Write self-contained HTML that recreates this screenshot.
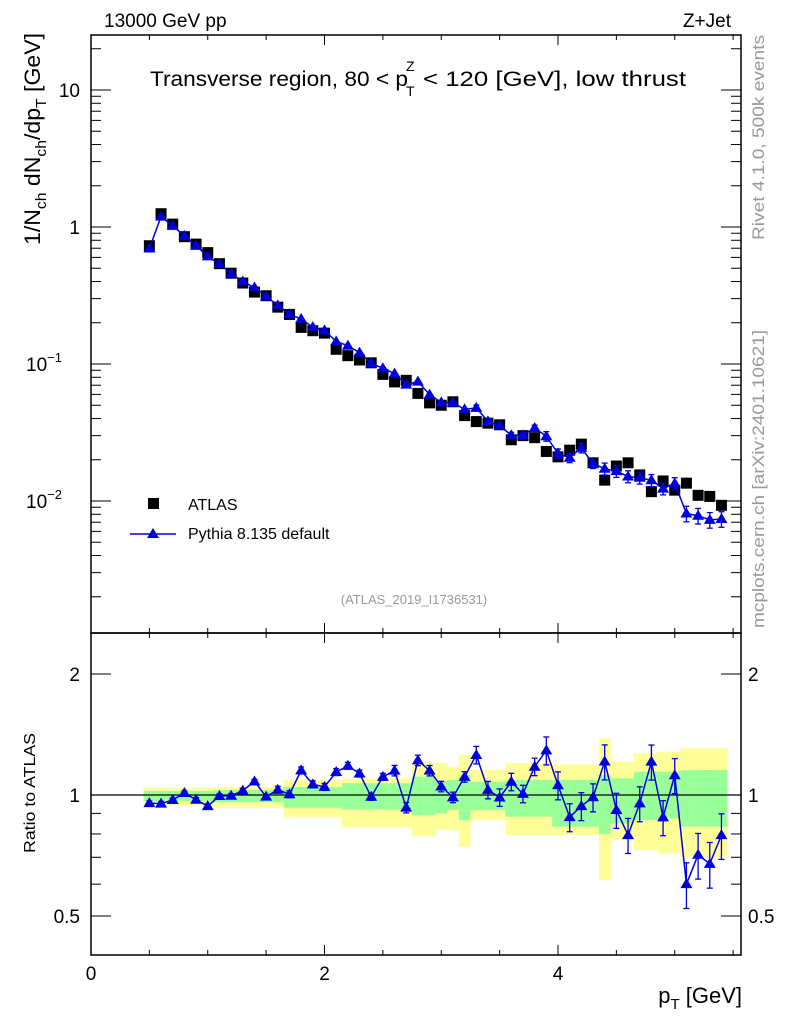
<!DOCTYPE html>
<html><head><meta charset="utf-8"><style>
body{margin:0;background:#fff;}
svg{display:block;font-family:"Liberation Sans",Arial,sans-serif;}
</style></head><body>
<svg id="chart" width="786" height="1024" viewBox="0 0 786 1024" xmlns="http://www.w3.org/2000/svg">
<rect x="0" y="0" width="786" height="1024" fill="#fff"/>
<g id="bands"></g>
<g id="marks"></g>
<g id="axes"></g>
<text x="104" y="27" font-size="19">13000 GeV pp</text>
<text x="731" y="27" font-size="19" text-anchor="end">Z+Jet</text>
<g>
<text x="150" y="86" font-size="21" textLength="258" lengthAdjust="spacingAndGlyphs">Transverse region, 80 &lt; p</text>
<text x="406" y="71" font-size="14">Z</text>
<text x="406" y="96" font-size="14">T</text>
<text x="423" y="86" font-size="21" textLength="263" lengthAdjust="spacingAndGlyphs">&lt; 120 [GeV], low thrust</text>
</g>
<text x="414" y="604" font-size="13" fill="#999" text-anchor="middle">(ATLAS_2019_I1736531)</text>
<text transform="translate(764,240) rotate(-90)" font-size="17" fill="#999" textLength="205" lengthAdjust="spacingAndGlyphs">Rivet 4.1.0,  500k events</text>
<text transform="translate(764,628) rotate(-90)" font-size="17" fill="#999" textLength="298" lengthAdjust="spacingAndGlyphs">mcplots.cern.ch [arXiv:2401.10621]</text>
<text transform="translate(40,245) rotate(-90)" font-size="22" textLength="212" lengthAdjust="spacingAndGlyphs">1/N<tspan font-size="15" dy="6">ch</tspan><tspan dy="-6"> dN</tspan><tspan font-size="15" dy="6">ch</tspan><tspan dy="-6">/dp</tspan><tspan font-size="15" dy="6">T</tspan><tspan dy="-6"> [GeV]</tspan></text>
<text transform="translate(35,853) rotate(-90)" font-size="16" textLength="120" lengthAdjust="spacingAndGlyphs">Ratio to ATLAS</text>
<text x="742" y="1003" font-size="22" text-anchor="end">p<tspan font-size="15" dy="6">T</tspan><tspan dy="-6"> [GeV]</tspan></text>
<g>
<rect x="148" y="498" width="11" height="11" fill="#000"/>
<text x="188" y="510" font-size="16">ATLAS</text>
<line x1="130" y1="534" x2="176" y2="534" stroke="#0000dd" stroke-width="1.5"/>
<polygon points="153,528 159,538 147,538" fill="#0000dd"/>
<text x="188" y="539" font-size="16">Pythia 8.135 default</text>
</g>
</svg>
<script>
const xVals=[0.5,0.6,0.7,0.8,0.9,1.0,1.1,1.2,1.3,1.4,1.5,1.6,1.7,1.8,1.9,2.0,2.1,2.2,2.3,2.4,2.5,2.6,2.7,2.8,2.9,3.0,3.1,3.2,3.3,3.4,3.5,3.6,3.7,3.8,3.9,4.0,4.1,4.2,4.3,4.4,4.5,4.6,4.7,4.8,4.9,5.0,5.1,5.2,5.3,5.4];
const atlasVals=[0.73,1.25,1.05,0.85,0.75,0.65,0.54,0.46,0.39,0.335,0.315,0.26,0.23,0.185,0.175,0.168,0.128,0.115,0.107,0.102,0.084,0.074,0.076,0.061,0.052,0.050,0.053,0.042,0.038,0.037,0.036,0.028,0.030,0.029,0.023,0.021,0.0235,0.026,0.019,0.0142,0.018,0.019,0.0155,0.0117,0.014,0.012,0.0135,0.0110,0.0108,0.0093];
const mcVals=[0.697,1.19,1.02,0.86,0.73,0.61,0.537,0.458,0.40,0.362,0.312,0.268,0.231,0.213,0.186,0.176,0.146,0.136,0.121,0.101,0.0932,0.0851,0.0707,0.0744,0.0598,0.0525,0.0523,0.0466,0.0478,0.0381,0.0355,0.0302,0.0302,0.0341,0.0297,0.0222,0.0207,0.0244,0.01875,0.0172,0.01652,0.0151,0.01477,0.01416,0.01232,0.01344,0.0081,0.00781,0.00728,0.00739];
const mcRelErr=[0.012,0.012,0.012,0.012,0.012,0.012,0.012,0.012,0.012,0.012,0.012,0.02,0.02,0.02,0.02,0.02,0.02,0.02,0.02,0.02,0.02,0.03,0.03,0.03,0.03,0.03,0.03,0.03,0.05,0.05,0.05,0.05,0.05,0.05,0.08,0.08,0.08,0.08,0.08,0.1,0.1,0.1,0.1,0.1,0.1,0.1,0.13,0.13,0.13,0.13];
const yellowHi=[1.04,1.04,1.04,1.04,1.04,1.04,1.047,1.047,1.047,1.047,1.047,1.047,1.09,1.09,1.09,1.09,1.09,1.10,1.10,1.10,1.10,1.10,1.10,1.2,1.2,1.2,1.176,1.258,1.154,1.154,1.154,1.2,1.2,1.2,1.2,1.19,1.19,1.19,1.19,1.384,1.21,1.21,1.27,1.27,1.282,1.282,1.307,1.307,1.307,1.307];
const yellowLo=[0.945,0.945,0.945,0.945,0.945,0.945,0.93,0.93,0.93,0.93,0.93,0.93,0.88,0.88,0.88,0.88,0.88,0.83,0.83,0.83,0.83,0.83,0.83,0.79,0.79,0.82,0.818,0.743,0.866,0.866,0.866,0.795,0.795,0.795,0.795,0.795,0.795,0.795,0.795,0.615,0.773,0.773,0.729,0.729,0.716,0.716,0.702,0.702,0.702,0.702];
const greenHi=[1.023,1.023,1.023,1.023,1.023,1.023,1.03,1.03,1.03,1.03,1.03,1.03,1.047,1.047,1.047,1.047,1.047,1.07,1.07,1.07,1.07,1.07,1.07,1.11,1.11,1.079,1.09,1.121,1.079,1.079,1.079,1.09,1.09,1.09,1.09,1.09,1.09,1.09,1.09,1.121,1.10,1.10,1.143,1.143,1.143,1.143,1.154,1.154,1.154,1.154];
const greenLo=[0.966,0.966,0.966,0.966,0.966,0.966,0.96,0.96,0.96,0.96,0.96,0.96,0.93,0.93,0.93,0.93,0.93,0.92,0.92,0.92,0.92,0.92,0.92,0.89,0.89,0.90,0.918,0.866,0.918,0.918,0.918,0.883,0.883,0.883,0.883,0.834,0.834,0.834,0.834,0.80,0.85,0.85,0.866,0.866,0.875,0.875,0.834,0.834,0.834,0.834];
const binWidth=0.1;
const xTickLabels=["0","2","4"];
const yTickLabels=["10","1","10","10"];
const ratioTickLabels=["0.5","1","2"];

const NS="http://www.w3.org/2000/svg";
const L=91,R=741,T=35,MB=633,RB=955;
const X=v=>L+v*116.75;
const Y=v=>227-137*Math.log10(v);
const RY=v=>795-121*Math.log2(v);
function mk(tag,attrs,parent){const e=document.createElementNS(NS,tag);for(const k in attrs)e.setAttribute(k,attrs[k]);parent.appendChild(e);return e;}
const bands=document.getElementById('bands'),marks=document.getElementById('marks'),axes=document.getElementById('axes');

xVals.forEach((x,i)=>{
  const x0=X(x-binWidth/2),x1=X(x+binWidth/2);
  const yb=mk('rect',{x:x0,y:RY(yellowHi[i]),width:x1-x0+0.3,height:RY(yellowLo[i])-RY(yellowHi[i]),fill:'#ffff99'},bands);
  
  
  const gb=mk('rect',{x:x0,y:RY(greenHi[i]),width:x1-x0+0.3,height:RY(greenLo[i])-RY(greenHi[i]),fill:'#99ff99'},bands);
  
  
});
const unity=mk('line',{x1:L,x2:R,y1:RY(1),y2:RY(1),stroke:'#000','stroke-width':1.3},bands);



xVals.forEach((x,i)=>{
  const r=mk('rect',{x:X(x)-5.5,y:Y(atlasVals[i])-5.5,width:11,height:11,fill:'#000'},marks);
  
  
});
const blue='#0000dd';
let pts=xVals.map((x,i)=>X(x)+','+Y(mcVals[i])).join(' ');
const ml=mk('polyline',{points:pts,fill:'none',stroke:blue,'stroke-width':1.5},marks);


const ratioVals=xVals.map((x,i)=>mcVals[i]/atlasVals[i]);
let rpts=xVals.map((x,i)=>X(x)+','+RY(ratioVals[i])).join(' ');
const rl=mk('polyline',{points:rpts,fill:'none',stroke:blue,'stroke-width':1.5},marks);


function errbar(cx,y1,y2){
  if(Math.abs(y2-y1)<4)return;
  const g=mk('g',{stroke:blue,'stroke-width':1.3},marks);
  
  
  mk('line',{x1:cx,x2:cx,y1:y1,y2:y2},g);
  mk('line',{x1:cx-3,x2:cx+3,y1:y1,y2:y1},g);
  mk('line',{x1:cx-3,x2:cx+3,y1:y2,y2:y2},g);
}
function tri(cx,cy,name){
  const p=mk('polygon',{points:`${cx},${cy-6} ${cx+6},${cy+4} ${cx-6},${cy+4}`,fill:blue},marks);
  
  
}
xVals.forEach((x,i)=>{
  const cx=X(x);
  errbar(cx,Y(mcVals[i]*(1+mcRelErr[i])),Y(mcVals[i]*(1-mcRelErr[i])));
  tri(cx,Y(mcVals[i]),'pythia-point');
  errbar(cx,RY(ratioVals[i]*(1+mcRelErr[i])),RY(ratioVals[i]*(1-mcRelErr[i])));
  tri(cx,RY(ratioVals[i]),'ratio-point');
});

[[T,MB],[MB,RB]].forEach(([a,b],k)=>{
  const f=mk('rect',{x:L,y:a,width:R-L,height:b-a,fill:'none',stroke:'#000','stroke-width':1.5},axes);
  
  
});
function ln(x1,y1,x2,y2){mk('line',{x1,y1,x2,y2,stroke:'#000','stroke-width':1},axes);}
for(let v=0;v<=5.5;v+=0.5){
  const x=X(v);const major=Math.abs(v%2)<1e-9;const len=major?10:5;
  [[T,1],[MB,-1],[MB,1],[RB,-1]].forEach(([y,d])=>ln(x,y,x,y+d*len));
}
xTickLabels.forEach(s=>{
  const t=mk('text',{x:X(+s),y:980,'font-size':19,'text-anchor':'middle'},axes);t.textContent=s;
  
  
});
for(let e=-3;e<=1;e++){for(let m=1;m<=9;m++){
  const v=m*Math.pow(10,e);const y=Y(v);if(y<T||y>MB)continue;
  const len=m===1?20:10;ln(L,y,L+len,y);ln(R,y,R-len,y);
}}
const exps=[1,0,-1,-2];
yTickLabels.forEach((s,i)=>{
  const e=exps[i];const t=mk('text',{x:e<0?62:80,y:Y(Math.pow(10,e))+7,'font-size':19,'text-anchor':'end'},axes);
  t.textContent=s;
  if(e<0){const sp=mk('tspan',{'font-size':13,dy:-9},t);sp.textContent=String(e).replace('-','\u2212');}
  
  
});
[0.5,0.6,0.7,0.8,0.9,1,2].forEach(v=>{const y=RY(v);const len=(v===1||v===2||v===0.5)?20:10;ln(L,y,L+len,y);ln(R,y,R-len,y);});
ratioTickLabels.forEach(s=>{
  const y=RY(+s)+7;
  const a=mk('text',{x:80,y:y,'font-size':19,'text-anchor':'end'},axes);a.textContent=s;
  
  
  const b=mk('text',{x:748,y:y,'font-size':19},axes);b.textContent=s;
  
  
});
</script>
</body></html>
